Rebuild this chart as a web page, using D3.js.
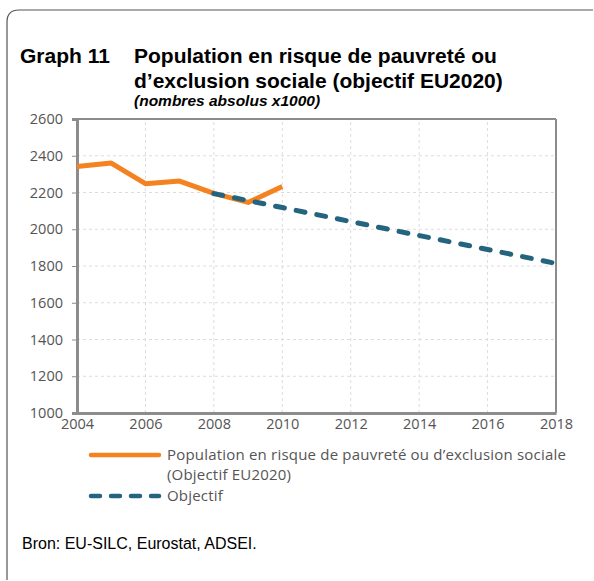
<!DOCTYPE html>
<html>
<head>
<meta charset="utf-8">
<script src="https://cdn.jsdelivr.net/npm/d3@7"></script>
<style>
  body { margin: 0; background: #fff; }
</style>
</head>
<body>
<div id="chart"></div>
<script>
// values (x1000 persons)
const years = [2004, 2005, 2006, 2007, 2008, 2009, 2010];
const population = [2342, 2360, 2248, 2262, 2195, 2146, 2233];
const targetYears = [2008, 2009, 2010, 2011, 2012, 2013, 2014, 2015, 2016, 2017, 2018];
const target = [2194, 2156, 2118, 2080, 2042, 2004, 1966, 1928, 1890, 1852, 1814];
const xTicks = [2004, 2006, 2008, 2010, 2012, 2014, 2016, 2018];
const yTicks = [1000, 1200, 1400, 1600, 1800, 2000, 2200, 2400, 2600];

const W = 594, H = 581;
const margin = { top: 119, right: 38, bottom: 168, left: 77 };

const svg = d3.select("#chart").append("svg")
    .attr("width", W)
    .attr("height", H);

// frame (top + left only, rounded corner)
svg.append("path")
    .attr("d", "M7,580 L7,22 Q7,10 19,10 L593,10")
    .attr("fill", "none")
    .attr("stroke", "#555")
    .attr("stroke-width", 1.2);

// title
const title = svg.append("g")
    .style("font-family", "'Liberation Sans', Arial, sans-serif")
    .style("font-weight", "bold")
    .attr("fill", "#000");
title.append("text").attr("x", 20).attr("y", 63).style("font-size", "21px").text("Graph 11");
title.append("text").attr("x", 134).attr("y", 63).style("font-size", "21px").text("Population en risque de pauvreté ou");
title.append("text").attr("x", 134).attr("y", 88).style("font-size", "21px").text("d’exclusion sociale (objectif EU2020)");
title.append("text").attr("x", 134).attr("y", 106).style("font-size", "15.5px").style("font-style", "italic")
    .text("(nombres absolus x1000)");

const x = d3.scaleLinear()
    .domain([2004, 2018])
    .range([margin.left, W - margin.right]);
const y = d3.scaleLinear()
    .domain([1000, 2600])
    .range([H - margin.bottom, margin.top]);

// grid
svg.append("g")
    .selectAll("line.h")
    .data(yTicks.slice(1))
    .enter().append("line")
    .attr("x1", x(2004)).attr("x2", x(2018))
    .attr("y1", d => y(d)).attr("y2", d => y(d))
    .attr("stroke", "#dcdcdc")
    .attr("stroke-dasharray", "3,3");
svg.append("g")
    .selectAll("line.v")
    .data(xTicks.slice(1, -1))
    .enter().append("line")
    .attr("x1", d => x(d)).attr("x2", d => x(d))
    .attr("y1", y(1000)).attr("y2", y(2600))
    .attr("stroke", "#dcdcdc")
    .attr("stroke-dasharray", "3,3");

// plot box (top and right thinner)
svg.append("line")
    .attr("x1", x(2004)).attr("x2", x(2018))
    .attr("y1", y(2600)).attr("y2", y(2600))
    .attr("stroke", "#8c8c8c").attr("stroke-width", 2);
svg.append("line")
    .attr("x1", x(2018)).attr("x2", x(2018))
    .attr("y1", y(2600)).attr("y2", y(1000))
    .attr("stroke", "#8c8c8c").attr("stroke-width", 2);

// axes
const tickFont = "'Open Sans', 'Noto Sans', sans-serif";
const yAxis = svg.append("g")
    .attr("transform", `translate(${x(2004)},0)`)
    .call(d3.axisLeft(y).tickValues(yTicks).tickFormat(d3.format("d")).tickSize(5).tickPadding(9));
const xAxis = svg.append("g")
    .attr("transform", `translate(0,${y(1000)})`)
    .call(d3.axisBottom(x).tickValues(xTicks).tickFormat(d3.format("d")).tickSize(0).tickPadding(6));
[yAxis, xAxis].forEach(a => {
    a.select(".domain").attr("stroke", "#8c8c8c").attr("stroke-width", 3);
    a.selectAll(".tick line").attr("stroke", "#8c8c8c");
    a.selectAll("text")
        .attr("fill", "#555")
        .style("font-family", tickFont)
        .style("font-size", "14.5px");
});
yAxis.selectAll("text").attr("dy", "0.32em");

// lines
const line = d3.line()
    .x(d => x(d[0]))
    .y(d => y(d[1]));

svg.append("path")
    .datum(years.map((yr, i) => [yr, population[i]]))
    .attr("fill", "none")
    .attr("stroke", "#f58220")
    .attr("stroke-width", 5)
    .attr("stroke-linejoin", "round")
    .attr("d", line);

svg.append("path")
    .datum(targetYears.map((yr, i) => [yr, target[i]]))
    .attr("fill", "none")
    .attr("stroke", "#24647e")
    .attr("stroke-width", 5)
    .attr("stroke-linecap", "round")
    .attr("stroke-dasharray", "9,12")
    .attr("d", line);

// legend
const legend = svg.append("g")
    .style("font-family", tickFont)
    .style("font-size", "15px")
    .style("letter-spacing", "0.2px")
    .attr("fill", "#555");
legend.append("line")
    .attr("x1", 91).attr("x2", 159).attr("y1", 455).attr("y2", 455)
    .attr("stroke", "#f58220").attr("stroke-width", 4.5).attr("stroke-linecap", "round");
legend.append("text").attr("x", 167).attr("y", 460).text("Population en risque de pauvreté ou d’exclusion sociale");
legend.append("text").attr("x", 167).attr("y", 480).text("(Objectif EU2020)");
legend.append("line")
    .attr("x1", 91).attr("x2", 159).attr("y1", 496).attr("y2", 496)
    .attr("stroke", "#24647e").attr("stroke-width", 4.5).attr("stroke-linecap", "round")
    .attr("stroke-dasharray", "9,11");
legend.append("text").attr("x", 167).attr("y", 501).text("Objectif");

// source
svg.append("text")
    .attr("x", 22).attr("y", 549)
    .style("font-family", "'Liberation Sans', Arial, sans-serif")
    .style("font-size", "16px")
    .attr("fill", "#000")
    .text("Bron: EU-SILC, Eurostat, ADSEI.");
</script>
</body>
</html>
